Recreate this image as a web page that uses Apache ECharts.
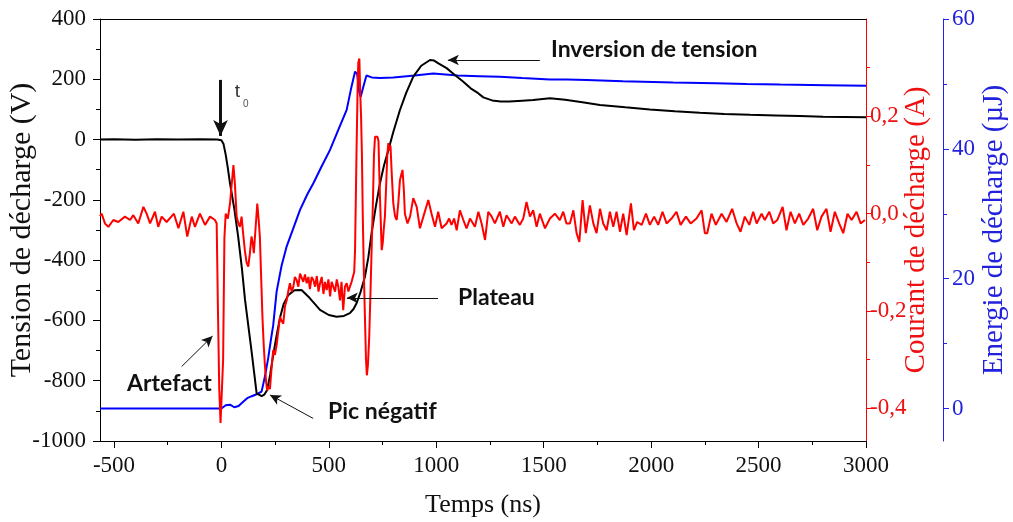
<!DOCTYPE html>
<html>
<head>
<meta charset="utf-8">
<script src="https://cdn.jsdelivr.net/npm/echarts@6/dist/echarts.min.js"></script>
<style>
html,body{margin:0;padding:0;background:#fff;}
#chart{width:1013px;height:522px;}
</style>
</head>
<body>
<div id="chart"></div>
<script>
// ---- tick labels ----
var xTicks = [-500, 0, 500, 1000, 1500, 2000, 2500, 3000];
var xMinorTicks = [-250, 250, 750, 1250, 1750, 2250, 2750];
var currentTicks = [-0.4, -0.2, 0, 0.2];
var currentMinorTicks = [-0.3, -0.1, 0.1, 0.3];
var energyTicks = [0, 20, 40, 60];
var energyMinorTicks = [10, 30, 50];

// ---- series: [time (ns), value] ----
var voltageData = [[-565,0],[-500,1],[-400,-1],[-300,1],[-200,0],[-100,1],[-20,0],[0,-2],[10,-15],[20,-50],[30,-95],[40,-145],[60,-230],[78,-322],[95,-425],[110,-532],[140,-700],[164,-842],[187,-851],[200,-846],[213,-831],[227,-780],[241,-715],[257,-650],[273,-590],[290,-545],[311,-516],[340,-500],[373,-499],[410,-525],[459,-565],[500,-582],[536,-588],[570,-585],[598,-576],[615,-562],[629,-543],[648,-505],[668,-455],[684,-390],[699,-310],[718,-225],[738,-145],[757,-85],[777,-35],[800,25],[831,98],[860,155],[893,209],[930,245],[971,264],[990,262],[1010,253],[1048,237],[1085,215],[1126,192],[1160,170],[1195,154],[1219,140],[1260,130],[1300,126],[1340,126],[1400,129],[1451,131],[1529,137],[1600,132],[1680,124],[1762,115],[1880,107],[1994,100],[2110,94],[2227,89],[2340,85],[2460,82],[2580,80],[2692,78],[2800,76],[2900,75],[3000,74]];

var currentData = [[-565,-0.005],[-557,0.0],[-542,-0.020],[-526,-0.027],[-503,-0.013],[-480,-0.017],[-449,-0.006],[-425,-0.013],[-410,-0.003],[-387,-0.020],[-363,0.014],[-348,0.0],[-332,-0.020],[-309,0.004],[-294,-0.027],[-278,-0.006],[-255,-0.017],[-221,0.0],[-200,-0.030],[-177,0.004],[-159,-0.047],[-138,-0.006],[-123,-0.027],[-100,0.0],[-76,-0.023],[-53,-0.006],[-30,-0.013],[-22,-0.02],[-16,-0.2],[-10,-0.36],[-4,-0.43],[2,-0.43],[8,-0.3],[14,-0.05],[20,0.0],[30,-0.01],[40,0.021],[48,0.02],[56,0.10],[63,0.06],[71,-0.006],[79,-0.02],[86,-0.027],[94,-0.006],[101,-0.04],[109,-0.075],[117,-0.10],[125,-0.109],[133,-0.08],[140,-0.047],[146,-0.06],[151,-0.081],[159,-0.03],[167,0.021],[173,-0.01],[179,-0.047],[185,-0.13],[191,-0.212],[197,-0.27],[203,-0.315],[208,-0.345],[213,-0.363],[220,-0.355],[226,-0.36],[233,-0.32],[241,-0.28],[249,-0.29],[257,-0.27],[265,-0.24],[273,-0.212],[280,-0.22],[288,-0.226],[296,-0.19],[304,-0.178],[311,-0.16],[319,-0.143],[327,-0.16],[335,-0.15],[342,-0.13],[350,-0.136],[358,-0.15],[366,-0.123],[373,-0.12],[381,-0.14],[389,-0.125],[397,-0.143],[405,-0.13],[412,-0.155],[420,-0.13],[428,-0.136],[436,-0.15],[444,-0.128],[452,-0.16],[459,-0.143],[467,-0.13],[475,-0.165],[482,-0.14],[490,-0.157],[498,-0.135],[506,-0.17],[513,-0.14],[521,-0.143],[529,-0.16],[537,-0.135],[544,-0.15],[552,-0.178],[559,-0.14],[567,-0.198],[575,-0.15],[583,-0.143],[591,-0.16],[598,-0.15],[606,-0.14],[614,-0.136],[618,-0.12],[622,-0.075],[629,0.131],[634,0.26],[637,0.31],[642,0.319],[646,0.25],[650,0.2],[654,0.12],[658,-0.006],[663,-0.12],[668,-0.212],[673,-0.30],[677,-0.332],[682,-0.31],[688,-0.253],[694,-0.16],[699,-0.075],[705,0.02],[710,0.12],[715,0.158],[720,0.16],[726,0.158],[731,0.15],[735,0.08],[738,0.035],[742,-0.02],[746,-0.075],[751,-0.06],[756,-0.03],[761,-0.006],[767,0.06],[772,0.12],[777,0.145],[782,0.13],[787,0.14],[793,0.08],[800,0.021],[808,-0.005],[816,-0.013],[823,0.02],[831,0.069],[837,0.08],[843,0.09],[849,0.05],[854,0.0],[866,-0.02],[878,-0.006],[893,0.032],[909,0.014],[924,-0.03],[940,-0.006],[963,0.028],[978,0.0],[994,-0.027],[1009,0.004],[1025,-0.03],[1048,-0.02],[1060,-0.01],[1071,-0.023],[1083,-0.01],[1095,-0.034],[1110,0.007],[1126,-0.013],[1141,-0.03],[1157,-0.01],[1180,-0.027],[1196,0.004],[1211,-0.02],[1227,-0.054],[1242,0.004],[1258,-0.006],[1273,-0.02],[1296,0.004],[1312,-0.027],[1327,-0.003],[1351,-0.02],[1366,-0.006],[1389,-0.023],[1405,-0.01],[1420,0.024],[1436,-0.006],[1451,0.007],[1467,-0.027],[1482,0.0],[1506,-0.03],[1529,-0.01],[1552,0.0],[1575,-0.013],[1591,0.004],[1606,-0.02],[1622,-0.02],[1638,0.007],[1653,-0.04],[1666,-0.058],[1681,0.028],[1696,-0.04],[1715,0.017],[1731,-0.02],[1746,-0.04],[1762,0.01],[1777,-0.02],[1793,-0.034],[1808,0.004],[1824,-0.027],[1839,0.004],[1855,-0.037],[1870,0.0],[1886,-0.044],[1906,0.021],[1920,-0.034],[1935,-0.017],[1956,-0.023],[1976,0.0],[1994,-0.023],[2014,-0.006],[2033,-0.023],[2053,0.004],[2072,-0.02],[2095,-0.01],[2118,0.004],[2137,-0.023],[2162,-0.006],[2184,-0.02],[2211,-0.01],[2235,0.007],[2250,-0.04],[2261,-0.04],[2281,0.0],[2301,-0.023],[2328,0.0],[2351,-0.017],[2377,0.01],[2398,-0.02],[2416,-0.037],[2436,-0.006],[2457,-0.023],[2475,0.004],[2491,-0.02],[2514,0.0],[2529,-0.013],[2550,0.004],[2568,-0.02],[2587,-0.013],[2612,0.014],[2630,-0.034],[2649,0.004],[2669,-0.02],[2689,0.0],[2708,-0.023],[2731,-0.01],[2754,0.01],[2773,-0.034],[2793,-0.006],[2816,0.01],[2835,-0.037],[2855,0.004],[2875,-0.02],[2894,-0.04],[2914,0.0],[2933,-0.013],[2956,0.004],[2975,-0.02],[2995,-0.013]];

var energyData = [[-565,0],[0,0],[20,0.5],[40,0.6],[60,0.2],[80,0.4],[100,1.0],[120,1.6],[141,1.9],[164,2.2],[187,2.6],[203,5.0],[218,7.8],[230,10.5],[241,12.8],[257,18.0],[280,22.0],[303,24.9],[335,27.8],[366,30.6],[400,33.0],[428,34.7],[465,37.2],[505,39.8],[545,43.0],[583,46.0],[605,49.5],[622,51.9],[632,51.5],[640,49.0],[648,48.0],[660,49.5],[675,51.3],[684,51.6],[700,51.0],[738,50.9],[800,51.0],[900,51.3],[986,51.6],[1100,51.3],[1200,51.2],[1296,51.1],[1400,50.9],[1529,50.7],[1607,50.7],[1700,50.6],[1869,50.4],[2102,50.2],[2300,50.1],[2444,50.0],[2600,49.9],[2816,49.8],[3000,49.7]];

// ---- annotations (data coordinates on the voltage axis) ----
var arrowLines = [
  {from: [1482, 264], to: [1054, 264]},
  {from: [1008, -525], to: [584, -525]},
  {from: [-185, -753], to: [-41, -652]},
  {from: [427, -925], to: [226, -847]}
];
var annotTexts = [
  {at: [1534, 300], text: 'Inversion de tension'},
  {at: [1101, -525], text: 'Plateau'},
  {at: [-439, -809], text: 'Artefact'},
  {at: [496, -904], text: 'Pic négatif'}
];

var XMIN = -565, XMAX = 3000;
var serif = 'Liberation Serif';
var plain = function (v) { return String(v); };
var chart = echarts.init(document.getElementById('chart'), null, {renderer: 'canvas'});

var arrowData = arrowLines.map(function (a) {
  return [{coord: a.from, symbol: 'none'}, {coord: a.to, symbol: 'arrow', symbolSize: [8, 11]}];
});
arrowData.push([{coord: [-4, 198], symbol: 'none', lineStyle: {width: 3}}, {coord: [-4, 12], symbol: 'arrow', symbolSize: [11, 16], lineStyle: {width: 3}}]);

var textData = annotTexts.map(function (a) {
  return {coord: a.at, label: {formatter: a.text}};
});
textData.push({coord: [62, 158], label: {formatter: 't', fontFamily: 'Liberation Sans', fontWeight: 'normal', fontSize: 19, color: '#333'}});
textData.push({coord: [100, 116], label: {formatter: '0', fontFamily: 'Liberation Sans', fontWeight: 'normal', fontSize: 10, color: '#555'}});

var option = {
  animation: false,
  backgroundColor: '#fff',
  grid: {left: 100, right: 147, top: 19, bottom: 81, containLabel: false, outerBoundsMode: 'none'},
  xAxis: [
    {
      type: 'value', min: XMIN, max: XMAX, position: 'bottom',
      axisLine: {onZero: false, lineStyle: {color: '#000', width: 1}},
      axisTick: {customValues: xTicks, length: 7, lineStyle: {color: '#000'}},
      axisLabel: {customValues: xTicks, margin: 13, fontFamily: serif, fontSize: 23, color: '#111', formatter: plain},
      splitLine: {show: false},
      name: 'Temps (ns)', nameLocation: 'middle', nameGap: 51, nameMoveOverlap: false,
      nameTextStyle: {fontFamily: serif, fontSize: 26, color: '#111'}
    },
    {
      type: 'value', min: XMIN, max: XMAX, position: 'bottom',
      axisLine: {show: false, onZero: false},
      axisTick: {customValues: xMinorTicks, length: 4, lineStyle: {color: '#000'}},
      axisLabel: {show: false}, splitLine: {show: false}
    },
    {
      type: 'value', min: XMIN, max: XMAX, position: 'top',
      axisLine: {onZero: false, lineStyle: {color: '#000', width: 1}},
      axisTick: {show: false}, axisLabel: {show: false}, splitLine: {show: false}
    }
  ],
  yAxis: [
    {
      type: 'value', min: -1000, max: 400, interval: 200, position: 'left',
      axisLine: {show: true, onZero: false, lineStyle: {color: '#000', width: 1}},
      axisTick: {show: true, length: 7, lineStyle: {color: '#000'}},
      minorTick: {show: true, splitNumber: 2, length: 4, lineStyle: {color: '#000'}},
      axisLabel: {margin: 14, fontFamily: serif, fontSize: 23, color: '#111', formatter: plain},
      splitLine: {show: false},
      name: 'Tension de décharge (V)', nameLocation: 'middle', nameRotate: 90, nameGap: 63, nameMoveOverlap: false,
      nameTextStyle: {fontFamily: serif, fontSize: 30, color: '#111'}
    },
    {
      type: 'value', min: -0.467, max: 0.4, position: 'right', offset: 0,
      axisLine: {show: true, onZero: false, lineStyle: {color: '#ff0000', width: 1}},
      axisTick: {show: true, customValues: currentTicks, length: 6, lineStyle: {color: '#ff0000'}},
      axisLabel: {customValues: currentTicks, margin: 4, fontFamily: serif, fontSize: 23, color: '#ee1111',
        formatter: function (v) { return v.toFixed(1).replace('.', ','); }},
      splitLine: {show: false},
      name: 'Courant de décharge (A)', nameLocation: 'middle', nameRotate: 90, nameGap: 36, nameMoveOverlap: false,
      nameTextStyle: {fontFamily: serif, fontSize: 29, color: '#ee1111'}
    },
    {
      type: 'value', min: -5, max: 60, position: 'right', offset: 77,
      axisLine: {show: true, onZero: false, lineStyle: {color: '#2222ee', width: 1}},
      axisTick: {show: true, customValues: energyTicks, length: 6, lineStyle: {color: '#2222ee'}},
      axisLabel: {customValues: energyTicks, margin: 9, fontFamily: serif, fontSize: 23, color: '#2222dd', formatter: plain},
      splitLine: {show: false},
      name: 'Energie de décharge (µJ)', nameLocation: 'middle', nameRotate: 90, nameGap: 37, nameMoveOverlap: false,
      nameTextStyle: {fontFamily: serif, fontSize: 29, color: '#2222dd'}
    },
    {
      type: 'value', min: -0.467, max: 0.4, position: 'right', offset: 0,
      axisLine: {show: false, onZero: false},
      axisTick: {show: true, customValues: currentMinorTicks, length: 4, lineStyle: {color: '#ff0000'}},
      axisLabel: {show: false}, splitLine: {show: false}
    },
    {
      type: 'value', min: -5, max: 60, position: 'right', offset: 77,
      axisLine: {show: false, onZero: false},
      axisTick: {show: true, customValues: energyMinorTicks, length: 4, lineStyle: {color: '#2222ee'}},
      axisLabel: {show: false}, splitLine: {show: false}
    }
  ],
  series: [
    {
      name: 'Energie', type: 'line', xAxisIndex: 0, yAxisIndex: 2, data: energyData,
      showSymbol: false, symbol: 'none', lineStyle: {color: '#0000ff', width: 2}, z: 2
    },
    {
      name: 'Tension', type: 'line', xAxisIndex: 0, yAxisIndex: 0, data: voltageData,
      showSymbol: false, symbol: 'none', lineStyle: {color: '#000', width: 2}, z: 3,
      markLine: {
        silent: true, animation: false,
        label: {show: false},
        lineStyle: {color: '#111', width: 1, type: 'solid'},
        emphasis: {disabled: true},
        data: arrowData
      },
      markPoint: {
        silent: true, animation: false,
        symbol: 'circle', symbolSize: 0, itemStyle: {color: 'rgba(0,0,0,0)'},
        label: {show: true, position: 'right', distance: 0, fontFamily: 'Lato', fontWeight: 'bold', fontSize: 23, color: '#111'},
        data: textData
      }
    },
    {
      name: 'Courant', type: 'line', xAxisIndex: 0, yAxisIndex: 1, data: currentData,
      showSymbol: false, symbol: 'none', lineStyle: {color: '#ff0000', width: 2}, z: 4
    }
  ]
};
chart.setOption(option);
</script>
</body>
</html>
